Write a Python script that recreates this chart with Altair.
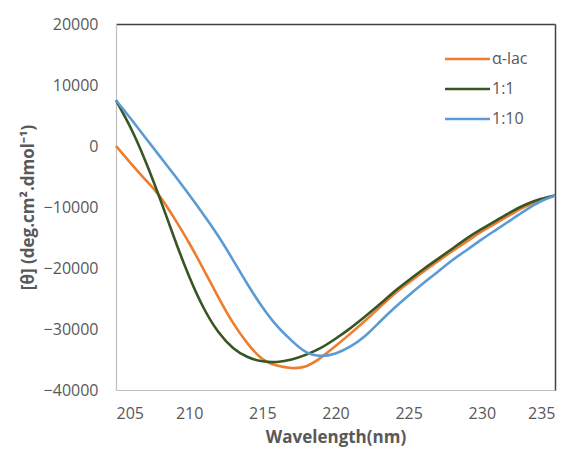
import altair as alt
import pandas as pd

wavelength = list(range(205, 236))

alpha_lac = [0, -2800, -5500, -8300, -11900, -15900, -20300, -24800, -29000, -32400,
             -34900, -36000, -36400, -36100, -34700, -32800, -30800, -28700, -26500, -24300,
             -22400, -20600, -18900, -17200, -15600, -14000, -12600, -11200, -9900, -8900, -8100]
ratio_1_1 = [7500, 3000, -2400, -8600, -15200, -21400, -26600, -30500, -33100, -34600,
             -35300, -35400, -35000, -34200, -33100, -31600, -29900, -28000, -26000, -23900,
             -22000, -20200, -18500, -16800, -15100, -13600, -12200, -10800, -9600, -8700, -8100]
ratio_1_10 = [7500, 4500, 1400, -1700, -4800, -8000, -11300, -14800, -18700, -22700,
              -26400, -29500, -31900, -33800, -34400, -34000, -32900, -31200, -28900, -26600,
              -24500, -22500, -20600, -18700, -17000, -15300, -13700, -12100, -10500, -9100, -8100]

series_names = ["α-lac", "1:1", "1:10"]
series_colors = ["#ED7D31", "#375623", "#5B9BD5"]

rows = []
for name, vals in zip(series_names, [alpha_lac, ratio_1_1, ratio_1_10]):
    for w, v in zip(wavelength, vals):
        rows.append({"wavelength": w, "theta": v, "series": name})
df = pd.DataFrame(rows)
leg_df = pd.DataFrame({"series": series_names})

FONT = "Open Sans"
GRAY = "#595959"
xscale = alt.Scale(domain=[205, 235], nice=False, zero=False)
yscale = alt.Scale(domain=[-40000, 20000], nice=False)
cscale = alt.Scale(domain=series_names, range=series_colors)

lines = alt.Chart(df).mark_line(strokeWidth=2.6, interpolate="natural").encode(
    x=alt.X("wavelength:Q", scale=xscale,
            axis=alt.Axis(values=[205, 210, 215, 220, 225, 230, 235], title="Wavelength(nm)",
                          ticks=False, grid=False, labelPadding=15, titlePadding=8,
                          domainColor="#BFBFBF", domainWidth=1.2)),
    y=alt.Y("theta:Q", scale=yscale,
            axis=alt.Axis(values=[-40000, -30000, -20000, -10000, 0, 10000, 20000],
                          format="d",
                          title="[θ] (deg.cm².dmol⁻¹)", ticks=False, grid=False,
                          labelPadding=18, titlePadding=6,
                          domainColor="#BFBFBF", domainWidth=1.2)),
    color=alt.Color("series:N", scale=cscale, legend=None),
)

frame = alt.Chart(df).mark_line(opacity=0).encode(
    x=alt.X("wavelength:Q", scale=xscale,
            axis=alt.Axis(orient="top", labels=False, ticks=False, grid=False, title=None,
                          domainColor="#404040", domainWidth=1.5)),
    y=alt.Y("theta:Q", scale=yscale,
            axis=alt.Axis(orient="right", labels=False, ticks=False, grid=False, title=None,
                          domainColor="#404040", domainWidth=1.5)),
    detail="series:N",
)

leg_y = alt.Y("series:N",
              scale=alt.Scale(type="point", domain=series_names, range=[35, 95], padding=0),
              axis=None)

leg_lines = alt.Chart(leg_df).mark_rule(strokeWidth=2.6).encode(
    x=alt.value(329), x2=alt.value(374), y=leg_y,
    color=alt.Color("series:N", scale=cscale, legend=None),
)
leg_text = alt.Chart(leg_df).mark_text(
    align="left", baseline="middle", font=FONT, fontSize=16, color=GRAY
).encode(x=alt.value(376), y=leg_y, text="series:N")

chart = alt.layer(lines, frame, leg_lines, leg_text).resolve_axis(
    x="independent", y="independent"
).resolve_scale(
    y="independent"
).properties(
    width=439, height=366,
    background="white",
    autosize=alt.AutoSizeParams(type="none"),
    padding={"left": 108, "top": 16, "right": 7, "bottom": 57},
).configure_view(
    stroke="transparent", strokeWidth=0
).configure_axis(
    labelFont=FONT, labelFontSize=16, labelColor=GRAY,
    titleFont=FONT, titleFontSize=17, titleColor=GRAY, titleFontWeight="bold",
)

chart.save("out.html", embed_options={"renderer": "svg", "actions": False})
